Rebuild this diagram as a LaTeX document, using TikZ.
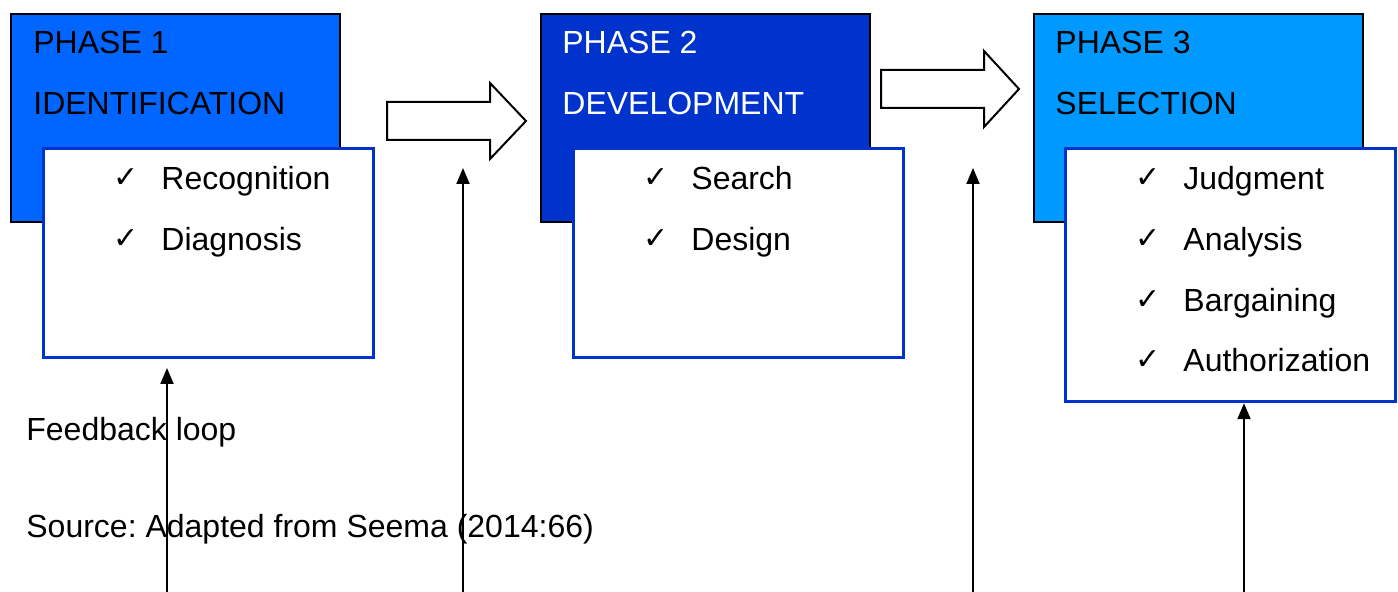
\documentclass[tikz,border=0pt]{standalone}
\usepackage{fontspec}
\setmainfont{Liberation Sans}
\newfontfamily\tickfont{DejaVu Sans}
\usepackage{tikz}
\usetikzlibrary{arrows.meta}
\frenchspacing

\definecolor{phaseone}{HTML}{0066FF}
\definecolor{phasetwo}{HTML}{0033CC}
\definecolor{phasethree}{HTML}{0099FF}
\definecolor{listedge}{HTML}{0033CC}

\tikzset{
  phasebox/.style={draw=black, line width=1pt, anchor=north west, minimum width=164.5pt, minimum height=104pt, inner sep=0pt},
  listbox/.style={draw=listedge, fill=white, line width=1.6pt, anchor=north west, minimum width=165pt, minimum height=104.5pt, inner sep=0pt},
  txt/.style={anchor=base west, inner sep=0pt, font=\fontsize{16}{19}\selectfont},
  tick/.style={anchor=base west, inner sep=0pt, font=\tickfont\fontsize{15}{18}\selectfont},
  blockarrow/.style={draw=black, line width=1pt, fill=white, line join=miter},
  feedback/.style={-{Triangle[length=8pt,width=6.5pt]}, line width=1pt}
}

\begin{document}
\begin{tikzpicture}[x=0.5pt,y=-0.5pt]
\useasboundingbox (0,0) rectangle (1398,592);

% phase boxes
\node[phasebox, fill=phaseone] (p1) at (10,13) {};
\node[phasebox, fill=phasetwo] (p2) at (540,13) {};
\node[phasebox, fill=phasethree] (p3) at (1033,13) {};
\node[txt] (p1a) at (33,54) {PHASE 1};
\node[txt] (p1b) at (33,115) {IDENTIFICATION};
\node[txt, text=white] (p2a) at (562,54) {PHASE 2};
\node[txt, text=white] (p2b) at (562,115) {DEVELOPMENT};
\node[txt] (p3a) at (1055,54) {PHASE 3};
\node[txt] (p3b) at (1055,115) {SELECTION};

% lists
\node[listbox] (l1) at (42,147) {};
\node[listbox] (l2) at (572,147) {};
\node[listbox, minimum height=126.5pt] (l3) at (1064,147) {};

\node[tick] (c1a) at (113,188) {✓};
\node[txt] (r1a) at (161,190) {Recognition};
\node[tick] (c1b) at (113,249) {✓};
\node[txt] (r1b) at (161,251) {Diagnosis};

\node[tick] (c2a) at (643,188) {✓};
\node[txt] (r2a) at (691,190) {Search};
\node[tick] (c2b) at (643,249) {✓};
\node[txt] (r2b) at (691,251) {Design};

\node[tick] (c3a) at (1135,188) {✓};
\node[txt] (r3a) at (1183,190) {Judgment};
\node[tick] (c3b) at (1135,249) {✓};
\node[txt] (r3b) at (1183,251) {Analysis};
\node[tick] (c3c) at (1135,310) {✓};
\node[txt] (r3c) at (1183,312) {Bargaining};
\node[tick] (c3d) at (1135,370) {✓};
\node[txt] (r3d) at (1183,372) {Authorization};

% block arrows
\coordinate (b1) at (387,102);
\coordinate (b2) at (881,70);
\draw[blockarrow] (b1) -- ++(103,0) -- ++(0,-19) -- ++(36,38) -- ++(-36,38) -- ++(0,-19) -- ++(-103,0) -- cycle;
\draw[blockarrow] (b2) -- ++(103,0) -- ++(0,-19) -- ++(35,38) -- ++(-35,38) -- ++(0,-19) -- ++(-103,0) -- cycle;

% labels
\node[txt] (fb) at (26,441) {Feedback loop};
\node[txt] (src) at (26,538) {Source: Adapted from Seema (2014:66)};

% feedback arrows
\coordinate (f1) at (167,592);
\coordinate (f1e) at (167,368);
\coordinate (f2) at (463,592);
\coordinate (f2e) at (463,168);
\coordinate (f3) at (973,592);
\coordinate (f3e) at (973,168);
\coordinate (f4) at (1244,592);
\draw[feedback] (f1) -- (f1e);
\draw[feedback] (f2) -- (f2e);
\draw[feedback] (f3) -- (f3e);
\draw[feedback] (f4) -- (f4 |- l3.south);
\end{tikzpicture}
\end{document}
